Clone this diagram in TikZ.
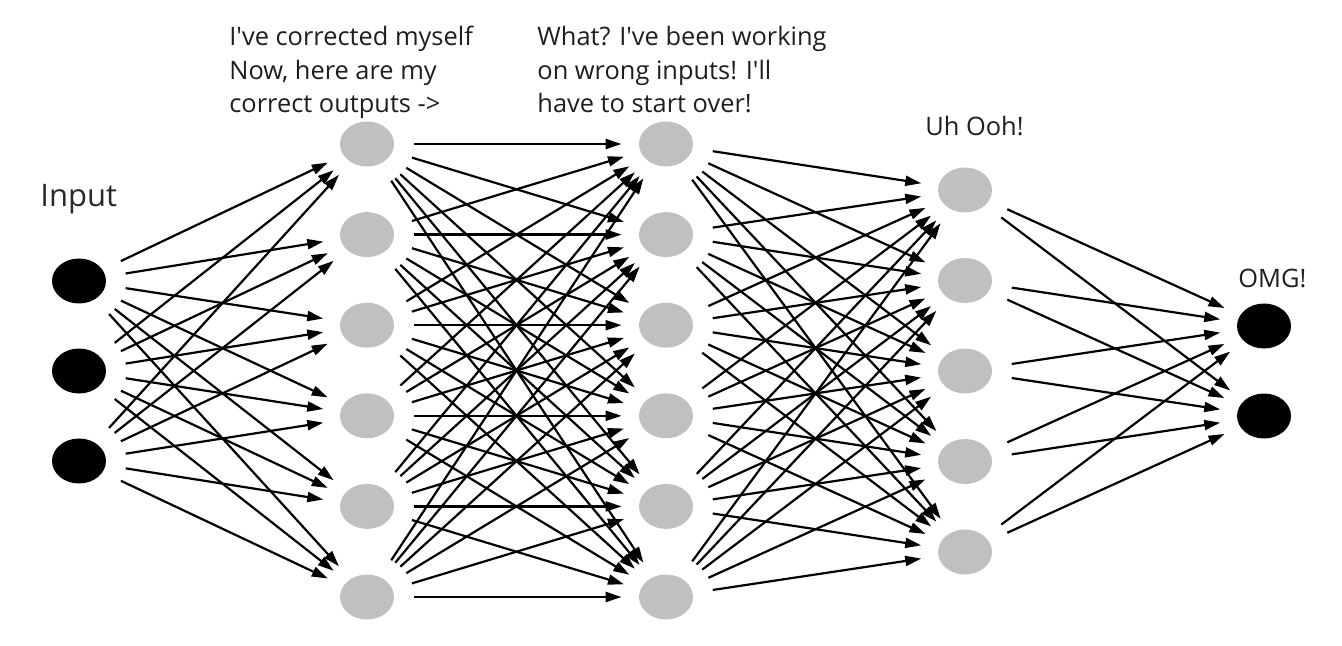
\documentclass[tikz,border=0pt]{standalone}
\usepackage{fontspec}
\setmainfont{Open Sans}[Ligatures=TeXOff]
\usetikzlibrary{shapes.geometric,arrows.meta}

\definecolor{nodegray}{RGB}{192,192,192}
\definecolor{inkgray}{RGB}{30,30,30}

\begin{document}
\begin{tikzpicture}[
        x=0.5pt,y=-0.5pt,
        neuron/.style={ellipse,minimum width=27pt,minimum height=22.5pt,inner sep=0pt},
        dark/.style={neuron,fill=black},
        light/.style={neuron,fill=nodegray},
        link/.style={-{Triangle[length=8pt,width=5pt]},line width=1.1pt,shorten <=10pt,shorten >=8.5pt},
        remark/.style={text=inkgray,font=\fontsize{12.7}{16.75}\selectfont,align=left,inner sep=0pt,anchor=base west}
    ]
    \useasboundingbox (0,0) rectangle (1342,646);

    % layers
    \foreach \i in {1,2,3} {
        \node[dark] (in\i) at (79,{281+90*(\i-1)}) {};
    }
    \foreach \i in {1,...,6} {
        \node[light] (ha\i) at (367,{144+90.6*(\i-1)}) {};
        \node[light] (hb\i) at (666,{144+90.6*(\i-1)}) {};
    }
    \foreach \i in {1,...,5} {
        \node[light] (hc\i) at (965,{190+90.5*(\i-1)}) {};
    }
    \foreach \i in {1,2} {
        \node[dark] (out\i) at (1264,{326+90*(\i-1)}) {};
    }

    % connections
    \foreach \a in {1,2,3}
        \foreach \b in {1,...,6}
            \draw[link] (in\a) -- (ha\b);
    \foreach \a in {1,...,6}
        \foreach \b in {1,...,6}
            \draw[link] (ha\a) -- (hb\b);
    \foreach \a in {1,...,6}
        \foreach \b in {1,...,5}
            \draw[link] (hb\a) -- (hc\b);
    \foreach \a in {1,...,5}
        \foreach \b in {1,2}
            \draw[link] (hc\a) -- (out\b);

    % labels (base anchor sits on the last line)
    \node[remark,text=inkgray!95,font=\fontsize{15.5}{18}\selectfont] (inlabel) at (40,207) {Input};
    \node[remark] (noteA) at (229,113) {I've corrected myself\\Now, here are my\\correct outputs ->};
    \node[remark] (noteB) at (537,113) {What? I've been working\\on wrong inputs! I'll\\have to start over!};
    \node[remark] (noteC) at (925,136) {Uh Ooh!};
    \node[remark] (noteD) at (1238,288) {OMG!};
\end{tikzpicture}
\end{document}
